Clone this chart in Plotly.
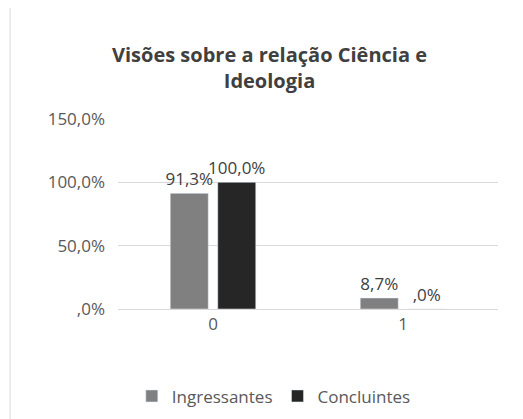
import plotly.graph_objects as go

categories = ["0", "1"]
ingressantes = [0.913, 0.087]
concluintes = [1.0, 0.0]
ingressantes_labels = ["91,3%", "8,7%"]
concluintes_labels = ["100,0%", ",0%"]
tick_vals = [0, 0.5, 1.0, 1.5]
tick_text = [",0%", "50,0%", "100,0%", "150,0%"]

font = "Open Sans, Liberation Sans, sans-serif"

fig = go.Figure()
fig.add_trace(go.Bar(
    x=categories, y=ingressantes, name="Ingressantes",
    marker_color="#808080", text=ingressantes_labels, textposition="outside",
    textfont=dict(size=17, color="#404040"), cliponaxis=False, constraintext="none",
))
fig.add_trace(go.Bar(
    x=categories, y=concluintes, name="Concluintes",
    marker_color="#262626", text=concluintes_labels, textposition="outside",
    textfont=dict(size=17, color="#404040"), cliponaxis=False, constraintext="none",
))

fig.update_layout(
    width=523, height=419,
    margin=dict(l=110, r=33, t=111, b=115),
    paper_bgcolor="white", plot_bgcolor="white",
    font=dict(family=font, color="#595959", size=17),
    title=dict(text="<b>Visões sobre a relação Ciência e<br>Ideologia</b>",
               x=0.5, xanchor="center", y=0.87, yanchor="middle",
               font=dict(size=20, color="#404040")),
    barmode="group", bargap=0.5, bargroupgap=0.2,
    showlegend=True,
    legend=dict(orientation="h", x=0.41, xanchor="center", y=-0.46, yanchor="middle",
                font=dict(size=17, color="#595959")),
    xaxis=dict(showline=True, linecolor="#d9d9d9", ticks=""),
    yaxis=dict(range=[0, 1.5], tickvals=tick_vals, ticktext=tick_text,
               gridcolor="#d9d9d9", zeroline=False, ticks="", ticklabelstandoff=12),
    shapes=[dict(type="rect", xref="paper", yref="paper", x0=-0.284, x1=1.079,
                 y0=-0.68, y1=1.66, line=dict(color="#d9d9d9", width=1))],
)

fig.write_html("out.html")
